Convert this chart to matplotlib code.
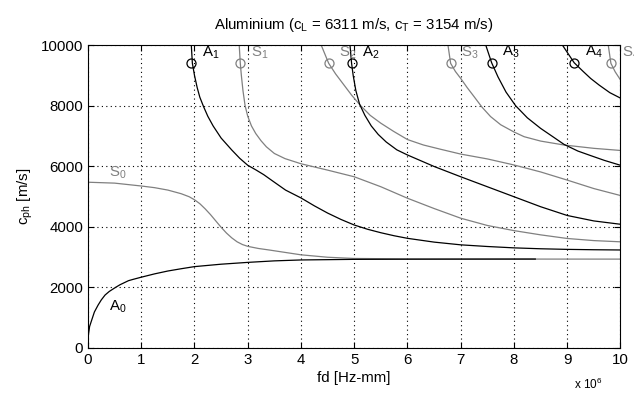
import matplotlib
matplotlib.use("Agg")
import matplotlib.pyplot as plt

plt.rcParams['font.family'] = ['Liberation Sans', 'DejaVu Sans']
plt.rcParams['mathtext.fontset'] = 'custom'
plt.rcParams['mathtext.rm'] = 'Liberation Sans'
plt.rcParams['mathtext.it'] = 'Liberation Sans'

# dispersion curves: fd [MHz-mm], c_ph [m/s]
a0_fd = [0.01, 0.03, 0.07, 0.12, 0.19, 0.25, 0.32, 0.4, 0.51, 0.6, 0.76, 0.85, 1.0, 1.25, 1.5, 1.75,
         2.0, 2.5, 3.0, 3.5, 4.0, 5.0, 6.0, 7.0, 8.4]
a0_c = [450, 700, 915, 1180, 1410, 1580, 1740, 1860, 1985, 2080, 2215, 2260, 2330, 2440, 2535, 2610,
        2680, 2760, 2820, 2870, 2900, 2920, 2925, 2928, 2930]

s0_fd = [0.0, 0.5, 1.0, 1.25, 1.5, 1.75, 1.9, 2.0, 2.1, 2.2, 2.3, 2.4, 2.5, 2.6, 2.7, 2.8, 2.9, 3.0,
         3.2, 3.4, 3.7, 4.0, 4.5, 5.0, 6.0, 7.0, 10.0]
s0_c = [5470, 5440, 5345, 5290, 5210, 5090, 4990, 4890, 4760, 4590, 4400, 4190, 3980, 3790, 3630,
        3500, 3410, 3350, 3280, 3230, 3150, 3070, 2990, 2950, 2935, 2930, 2928]

a1_fd = [1.94, 1.96, 2.0, 2.05, 2.1, 2.17, 2.25, 2.35, 2.5, 2.7, 2.85, 3.0, 3.15, 3.3, 3.5, 3.71,
         4.0, 4.25, 4.5, 4.75, 5.0, 5.25, 5.5, 5.75, 6.0, 6.5, 7.0, 7.5, 8.0, 8.5, 9.0, 9.5, 10.0]
a1_c = [10000, 9400, 9000, 8600, 8280, 7970, 7650, 7330, 6930, 6535, 6260, 6030, 5880, 5720, 5470,
        5210, 4950, 4690, 4450, 4240, 4055, 3915, 3800, 3700, 3615, 3490, 3400, 3345, 3300, 3270,
        3250, 3238, 3230]

s1_fd = [2.84, 2.86, 2.88, 2.91, 2.95, 3.0, 3.07, 3.15, 3.25, 3.35, 3.5, 3.7, 4.0, 4.5, 5.0, 5.5,
         6.0, 6.5, 7.0, 7.5, 8.0, 8.5, 9.0, 9.5, 10.0]
s1_c = [10000, 9400, 9000, 8500, 8000, 7650, 7330, 7080, 6840, 6640, 6420, 6250, 6080, 5870, 5650,
        5320, 4940, 4600, 4280, 4040, 3870, 3730, 3610, 3540, 3500]

a2_fd = [4.92, 4.95, 4.98, 5.03, 5.1, 5.2, 5.32, 5.45, 5.6, 5.8, 6.0, 6.5, 7.0, 7.5, 8.0, 8.5, 9.0,
         9.5, 10.0]
a2_c = [10000, 9400, 9000, 8500, 8050, 7680, 7330, 7050, 6800, 6540, 6370, 5990, 5650, 5320, 4990,
        4660, 4370, 4190, 4080]

s2_fd = [4.38, 4.52, 4.65, 4.8, 4.95, 5.12, 5.3, 5.5, 5.74, 6.0, 6.3, 6.62, 7.0, 7.5, 8.0, 8.5, 9.0,
         9.5, 10.0]
s2_c = [10000, 9400, 9050, 8700, 8350, 8000, 7680, 7420, 7150, 6880, 6700, 6560, 6400, 6240, 6040,
        5810, 5540, 5260, 5030]

a3_fd = [7.47, 7.58, 7.7, 7.85, 8.03, 8.25, 8.5, 8.75, 8.94, 9.2, 9.44, 9.7, 10.0]
a3_c = [10000, 9420, 8950, 8450, 8000, 7600, 7250, 6950, 6720, 6500, 6350, 6190, 6030]

s3_fd = [6.76, 6.81, 6.9, 7.0, 7.12, 7.25, 7.4, 7.56, 7.75, 8.0, 8.19, 8.5, 8.94, 9.5, 10.0]
s3_c = [10000, 9400, 9130, 8900, 8600, 8300, 7950, 7640, 7370, 7130, 6975, 6830, 6700, 6590, 6520]

a4_fd = [8.91, 9.13, 9.3, 9.44, 9.6, 9.8, 10.0]
a4_c = [10000, 9420, 9130, 8900, 8680, 8430, 8250]

s4_fd = [9.77, 9.82, 9.9, 10.0]
s4_c = [10000, 9400, 9120, 8850]

# mode markers near the top and their labels
a_mark_fd = [1.94, 4.95, 7.58, 9.13]
a_mark_c = [9400, 9400, 9420, 9420]
a_names = ['A$_1$', 'A$_2$', 'A$_3$', 'A$_4$']
s_mark_fd = [2.86, 4.52, 6.81, 9.82]
s_mark_c = [9400, 9400, 9400, 9400]
s_names = ['S$_1$', 'S$_2$', 'S$_3$', 'S$_4$']

black = 'black'
gray = '#808080'
scale = 1e6
fs = 10.8

fig = plt.figure(figsize=(6.34, 3.96), dpi=100)
ax = fig.add_axes([0.1388, 0.122, 0.8399, 0.7639])

for fd, c in [(s0_fd, s0_c), (s1_fd, s1_c), (s2_fd, s2_c), (s3_fd, s3_c), (s4_fd, s4_c)]:
    ax.plot([v * scale for v in fd], c, color=gray, lw=0.9)
for fd, c in [(a0_fd, a0_c), (a1_fd, a1_c), (a2_fd, a2_c), (a3_fd, a3_c), (a4_fd, a4_c)]:
    ax.plot([v * scale for v in fd], c, color=black, lw=0.9)

ax.plot([v * scale for v in s_mark_fd], s_mark_c, 'o', mfc='none', mec=gray, ms=6.5, mew=0.9)
ax.plot([v * scale for v in a_mark_fd], a_mark_c, 'o', mfc='none', mec=black, ms=6.5, mew=0.9)

for x, y, t in zip(a_mark_fd, a_mark_c, a_names):
    ax.text((x + 0.2) * scale, y + 350, t, color=black, fontsize=fs, va='center', ha='left', clip_on=False)
for x, y, t in zip(s_mark_fd, s_mark_c, s_names):
    ax.text((x + 0.2) * scale, y + 350, t, color=gray, fontsize=fs, va='center', ha='left', clip_on=False)
ax.text(0.4 * scale, 1350, 'A$_0$', color=black, fontsize=fs, va='center', ha='left')
ax.text(0.4 * scale, 5780, 'S$_0$', color=gray, fontsize=fs, va='center', ha='left')

ax.set_xlim(0, 10 * scale)
ax.set_ylim(0, 10000)
ax.set_xticks([i * scale for i in range(11)])
ax.set_xticklabels([str(i) for i in range(11)])
ax.set_yticks(range(0, 10001, 2000))
ax.tick_params(direction='in', top=True, right=True, length=4, labelsize=fs, width=0.8)
ax.grid(True, linestyle=(0, (1, 3)), color='black', lw=0.8)
for sp in ax.spines.values():
    sp.set_linewidth(0.8)

ax.set_xlabel('fd [Hz-mm]', fontsize=fs, labelpad=3)
ax.set_ylabel('c$_{ph}$ [m/s]', fontsize=fs, labelpad=4)
ax.set_title('Aluminium (c$_L$ = 6311 m/s, c$_T$ = 3154 m/s)', fontsize=fs, pad=12)
fig.text(0.905, 0.03, 'x 10$^6$', fontsize=8.5, ha='left', va='center')

fig.savefig('out.png', dpi=100)
